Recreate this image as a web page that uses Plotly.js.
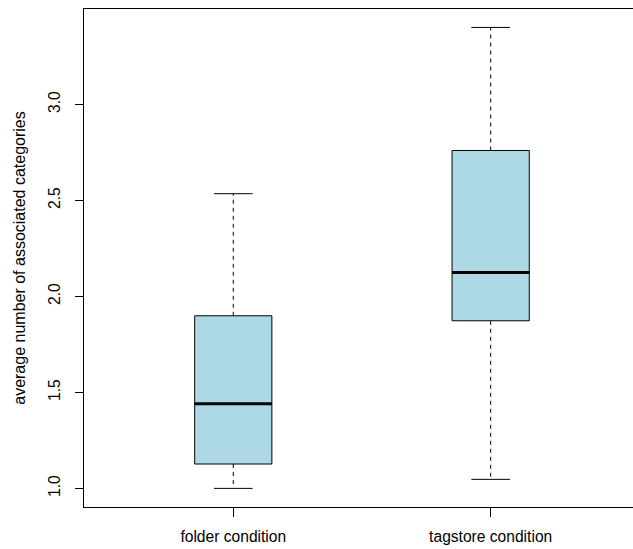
<!DOCTYPE html>
<html>
<head>
<meta charset="utf-8">
<script src="https://cdn.plot.ly/plotly-3.0.1.min.js"></script>
<style>
html, body { margin: 0; padding: 0; overflow: hidden; background: #fff; }
#chart { width: 633px; height: 549px; }
</style>
</head>
<body>
<div id="chart"></div>
<script>
// Data
const categories = ["folder condition", "tagstore condition"];
const lowerWhisker = [1.000, 1.047];
const q1 = [1.127, 1.873];
const medians = [1.441, 2.125];
const q3 = [1.899, 2.760];
const upperWhisker = [2.535, 3.401];
const yTickVals = [1.0, 1.5, 2.0, 2.5, 3.0];
const yTickText = ["1.0", "1.5", "2.0", "2.5", "3.0"];

// Styles
const positions = categories.map((c, i) => i + 1);
const boxWidth = 0.3;
const capHalf = boxWidth / 4;
const medHalf = boxWidth / 2;
const FONT = "Liberation Sans, Arial, Helvetica, sans-serif";

const boxTrace = {
  type: "box",
  x: positions,
  q1: q1,
  median: medians,
  q3: q3,
  lowerfence: q1,
  upperfence: q3,
  width: boxWidth,
  whiskerwidth: 0,
  boxpoints: false,
  fillcolor: "#ADD8E6",
  line: { color: "#000000", width: 1 },
  hoverinfo: "skip",
  showlegend: false
};

const wx = [], wy = [];
positions.forEach((p, i) => {
  wx.push(p, p, null, p, p, null);
  wy.push(q1[i], lowerWhisker[i], null, q3[i], upperWhisker[i], null);
});
const whiskerTrace = {
  type: "scatter", mode: "lines", x: wx, y: wy,
  line: { color: "#000000", width: 1, dash: "4px,4px" },
  hoverinfo: "skip", showlegend: false
};

const cx = [], cy = [];
positions.forEach((p, i) => {
  cx.push(p - capHalf, p + capHalf, null, p - capHalf, p + capHalf, null);
  cy.push(lowerWhisker[i], lowerWhisker[i], null, upperWhisker[i], upperWhisker[i], null);
});
const capTrace = {
  type: "scatter", mode: "lines", x: cx, y: cy,
  line: { color: "#000000", width: 1 },
  hoverinfo: "skip", showlegend: false
};

const mx = [], my = [];
positions.forEach((p, i) => {
  mx.push(p - medHalf, p + medHalf, null);
  my.push(medians[i], medians[i], null);
});
const medianTrace = {
  type: "scatter", mode: "lines", x: mx, y: my,
  line: { color: "#000000", width: 3 },
  hoverinfo: "skip", showlegend: false
};

const layout = {
  width: 633,
  height: 549,
  margin: { l: 84, r: 0, t: 9, b: 42 },
  paper_bgcolor: "#ffffff",
  plot_bgcolor: "#ffffff",
  font: { family: FONT, size: 15.6, color: "#000000" },
  showlegend: false,
  xaxis: {
    range: [0.42, 2.553],
    tickmode: "array",
    tickvals: positions,
    ticktext: categories,
    ticks: "outside",
    ticklen: 9,
    tickwidth: 1,
    tickcolor: "#000000",
    ticklabelstandoff: 6,
    showgrid: false,
    zeroline: false,
    showline: true,
    mirror: true,
    linecolor: "#000000",
    linewidth: 1,
    tickfont: { family: FONT, size: 15.6, color: "#000000" },
    automargin: false,
    fixedrange: true
  },
  yaxis: {
    range: [0.903, 3.497],
    tickmode: "array",
    tickvals: yTickVals,
    ticktext: yTickText,
    tickangle: -90,
    ticks: "outside",
    ticklen: 8,
    tickwidth: 1,
    tickcolor: "#000000",
    ticklabelstandoff: 9,
    showgrid: false,
    zeroline: false,
    showline: true,
    mirror: false,
    linecolor: "#000000",
    linewidth: 1,
    tickfont: { family: FONT, size: 15.6, color: "#000000" },
    title: { text: "average number of associated categories", font: { family: FONT, size: 16, color: "#000000" }, standoff: 16 },
    automargin: false,
    fixedrange: true
  }
};

Plotly.newPlot("chart", [boxTrace, whiskerTrace, capTrace, medianTrace], layout, { displayModeBar: false, staticPlot: true });
</script>
</body>
</html>
